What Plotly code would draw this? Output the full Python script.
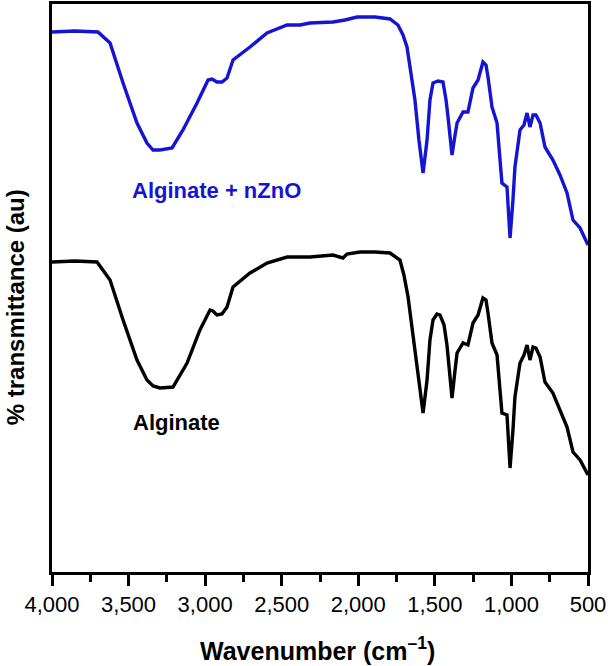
import plotly.graph_objects as go

# Alginate + nZnO (blue)
wn_zno = [4000, 3850, 3700, 3621, 3536, 3445, 3380, 3340, 3295, 3216, 3145, 3053, 2981, 2955, 2923,
          2890, 2857, 2818, 2707, 2596, 2465, 2381, 2315, 2165, 2087, 2008, 1891, 1793, 1741, 1708,
          1682, 1656, 1630, 1604, 1577, 1551, 1532, 1512, 1479, 1447, 1427, 1414, 1388, 1368, 1355,
          1316, 1284, 1251, 1218, 1186, 1166, 1153, 1127, 1094, 1062, 1029, 1009, 990, 977, 944,
          918, 898, 879, 859, 840, 813, 781, 729, 683, 637, 598, 552, 500]
t_zno = [540, 541, 540, 529, 489, 449, 429, 422, 422, 424, 442, 469, 492, 493, 490,
         490, 494, 512, 525, 539, 547, 547, 549, 550, 552, 555, 555, 553, 547, 537,
         525, 497, 472, 432, 399, 432, 472, 489, 491, 490, 472, 455, 417, 437, 449,
         460, 460, 484, 492, 510, 507, 495, 465, 449, 389, 385, 334, 372, 405, 442,
         447, 459, 445, 457, 457, 449, 425, 412, 397, 379, 352, 344, 327]

# Alginate (black)
wn_alg = [4000, 3850, 3706, 3621, 3536, 3445, 3380, 3340, 3295, 3210, 3118, 3034, 2968, 2949, 2923,
          2890, 2857, 2818, 2707, 2596, 2465, 2315, 2165, 2100, 2074, 1989, 1891, 1793, 1728, 1702,
          1675, 1656, 1630, 1604, 1577, 1551, 1532, 1512, 1486, 1466, 1440, 1421, 1388, 1368, 1355,
          1316, 1284, 1251, 1218, 1186, 1166, 1153, 1127, 1094, 1062, 1029, 1009, 990, 977, 944,
          918, 898, 879, 859, 840, 813, 781, 729, 683, 637, 598, 552, 500]
t_alg = [310, 311, 310, 292, 252, 212, 192, 186, 184, 185, 209, 242, 262, 261, 257,
         258, 265, 285, 299, 309, 315, 315, 317, 314, 318, 320, 320, 319, 312, 297,
         275, 252, 225, 187, 159, 192, 232, 252, 258, 257, 247, 227, 174, 202, 219,
         229, 227, 249, 257, 274, 272, 259, 229, 217, 159, 157, 104, 142, 175, 209,
         217, 227, 212, 225, 224, 215, 190, 179, 162, 145, 120, 112, 97]

x_ticks = [4000, 3500, 3000, 2500, 2000, 1500, 1000, 500]
x_tick_labels = ["4,000", "3,500", "3,000", "2,500", "2,000", "1,500", "1,000", "500"]

FONT = "Liberation Sans, Arial"
BLUE = "#1414d2"

fig = go.Figure()
fig.add_trace(go.Scatter(x=wn_zno, y=t_zno, mode="lines",
                         line=dict(color=BLUE, width=3.4), showlegend=False))
fig.add_trace(go.Scatter(x=wn_alg, y=t_alg, mode="lines",
                         line=dict(color="#000000", width=3.4), showlegend=False))

fig.add_annotation(x=2923, y=382, text="<b>Alginate + nZnO</b>", showarrow=False,
                   font=dict(family=FONT, size=22, color=BLUE))
fig.add_annotation(x=3184, y=150, text="<b>Alginate</b>", showarrow=False,
                   font=dict(family=FONT, size=22, color="#000000"))

# axis titles as annotations for exact placement
fig.add_annotation(xref="paper", yref="paper", x=0, y=0.466, xshift=-37,
                   xanchor="center", yanchor="middle",
                   text="<b>% transmittance (au)</b>", textangle=-90, showarrow=False,
                   font=dict(family=FONT, size=24, color="black"))
fig.add_annotation(xref="paper", yref="paper", x=0.495, y=0, yshift=-77,
                   xanchor="center", yanchor="middle",
                   text="<b>Wavenumber (cm<sup>–1</sup>)</b>", showarrow=False,
                   font=dict(family=FONT, size=25, color="black"))

fig.update_layout(
    width=608, height=666,
    margin=dict(l=52, r=20, t=4, b=94, autoexpand=False),
    paper_bgcolor="white", plot_bgcolor="white",
    font=dict(family=FONT, color="black"),
    xaxis=dict(range=[4000, 500], tickvals=x_ticks, ticktext=x_tick_labels,
               ticks="outside", ticklen=11, tickwidth=3, tickcolor="black",
               minor=dict(dtick=250, tick0=500, ticks="outside", ticklen=7, tickwidth=3, tickcolor="black"),
               showline=True, linewidth=3, linecolor="black", mirror=True,
               showgrid=False, zeroline=False, automargin=False,
               tickfont=dict(size=22)),
    yaxis=dict(range=[0, 568], showticklabels=False, ticks="",
               showline=True, linewidth=3, linecolor="black", mirror=True,
               showgrid=False, zeroline=False, automargin=False),
)

fig.write_html("out.html", config={"displayModeBar": False},
               post_script="document.body.style.margin='0';document.body.style.overflow='hidden';")
